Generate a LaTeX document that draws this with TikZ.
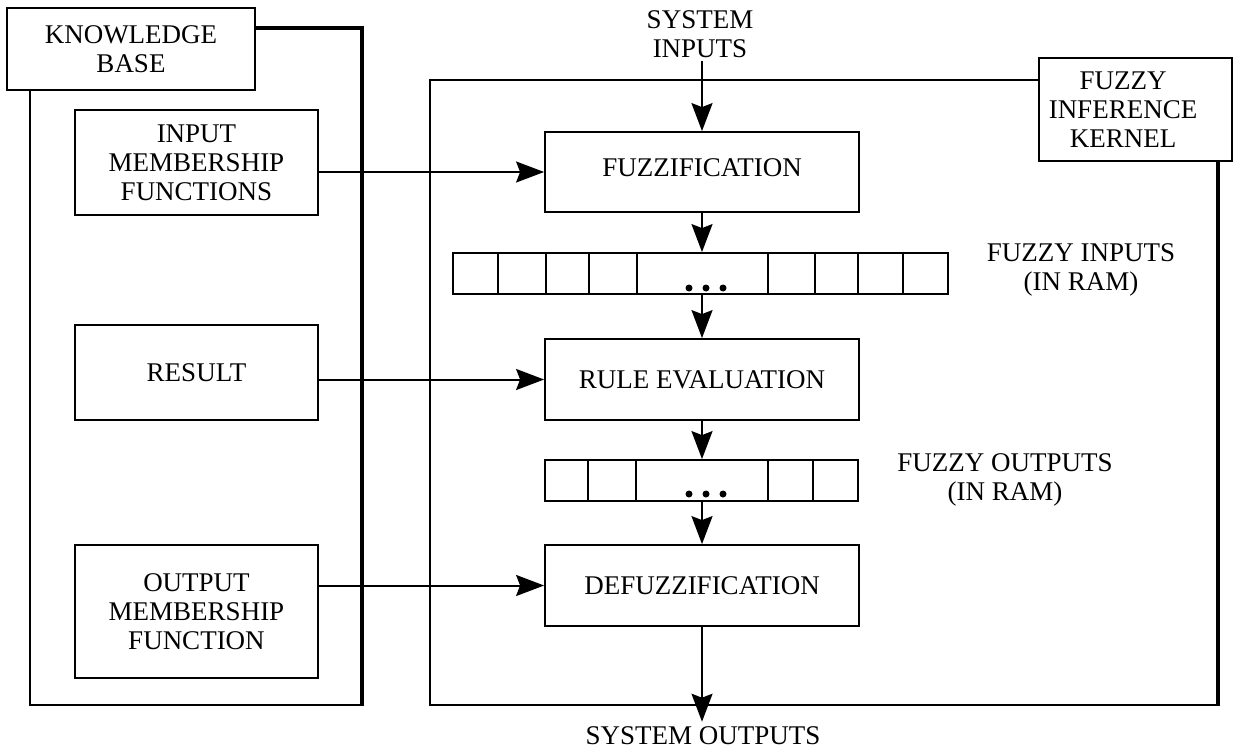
\documentclass[tikz,border=0pt]{standalone}
\usepackage{fontspec}
\setmainfont{Liberation Serif}
\usetikzlibrary{arrows.meta,calc}
\begin{document}
\begin{tikzpicture}[x=1pt,y=-1pt,
  every node/.style={font=\fontsize{27}{29}\selectfont, align=center},
  box/.style={draw, line width=1.8pt, inner sep=0pt},
  frame/.style={line width=1.8pt, line join=miter},
  heavy/.style={line width=4.5pt, line join=miter},
  arr/.style={line width=2pt, -{Stealth[length=28pt,width=21pt,inset=4pt]}},
  txt/.style={inner sep=3pt}
]
\useasboundingbox (0,0) rectangle (1234,749);

% Knowledge base frame
\draw[frame] (30,90) -- (30,705) -- (362,705);
\draw[heavy] (255,28) -- (362,28) -- (362,706);
\node[box, fill=white, minimum width=248pt, minimum height=82pt] (kbl) at (131,49) {KNOWLEDGE\\BASE};

% Fuzzy inference kernel frame
\draw[frame] (1039,80) -- (430,80) -- (430,705) -- (1218,705);
\draw[heavy] (1218,161) -- (1218,706);
\node[box, fill=white, minimum width=193pt, minimum height=103pt] (fikl) at (1135.5,109.5) {};
\node[txt] (fikt) at (1123,110) {FUZZY\\INFERENCE\\KERNEL};

% Knowledge base contents
\node[box, minimum width=243pt, minimum height=105pt] (imf) at (196.5,162.5) {INPUT\\MEMBERSHIP\\FUNCTIONS};
\node[box, minimum width=243pt, minimum height=95pt] (res) at (196.5,372.5) {RESULT};
\node[box, minimum width=243pt, minimum height=133pt] (omf) at (196.5,611.5) {OUTPUT\\MEMBERSHIP\\FUNCTION};

% Kernel contents
\node[box, minimum width=314pt, minimum height=80pt] (fuzz) at (702,172) {\raisebox{9pt}{FUZZIFICATION}};
\node[box, minimum width=495pt, minimum height=41pt] (reg1) at (700.5,273.5) {};
\node[box, minimum width=314pt, minimum height=81pt] (rule) at (702,379.5) {RULE EVALUATION};
\node[box, minimum width=313pt, minimum height=41pt] (reg2) at (701.5,480.5) {};
\node[box, minimum width=314pt, minimum height=81pt] (defuzz) at (702,585.5) {DEFUZZIFICATION};

% register cells
\foreach \x in {498,546,589,637,768,815,858,903}
  \draw[frame] (\x,253) -- (\x,294);
\foreach \x in {588,636,768,813}
  \draw[frame] (\x,460) -- (\x,501);
\foreach \x in {689,706,723} {
  \fill (\x,288) circle (3.5pt);
  \fill (\x,494) circle (3.5pt);
}

% labels
\node[txt] (fin) at (1081,270) {FUZZY INPUTS\\(IN RAM)};
\node[txt] (fout) at (1005,480) {FUZZY OUTPUTS\\(IN RAM)};
\node[txt] (sin) at (700,34) {SYSTEM\\INPUTS};
\node[txt, inner sep=5pt] (sout) at (703,736) {SYSTEM OUTPUTS};

% arrows
\draw[arr] (sin.south -| fuzz.north) -- (fuzz.north);
\draw[arr] (fuzz.south) -- (fuzz.south |- reg1.north);
\draw[arr] (fuzz.south |- reg1.south) -- (rule.north);
\draw[arr] (rule.south) -- (rule.south |- reg2.north);
\draw[arr] (rule.south |- reg2.south) -- (defuzz.north);
\draw[arr] (defuzz.south) -- (defuzz.south |- sout.north);

\draw[arr] (imf.east |- fuzz.west) -- (fuzz.west);
\draw[arr] (res.east |- rule.west) -- (rule.west);
\draw[arr] (omf.east |- defuzz.west) -- (defuzz.west);
\end{tikzpicture}
\end{document}
